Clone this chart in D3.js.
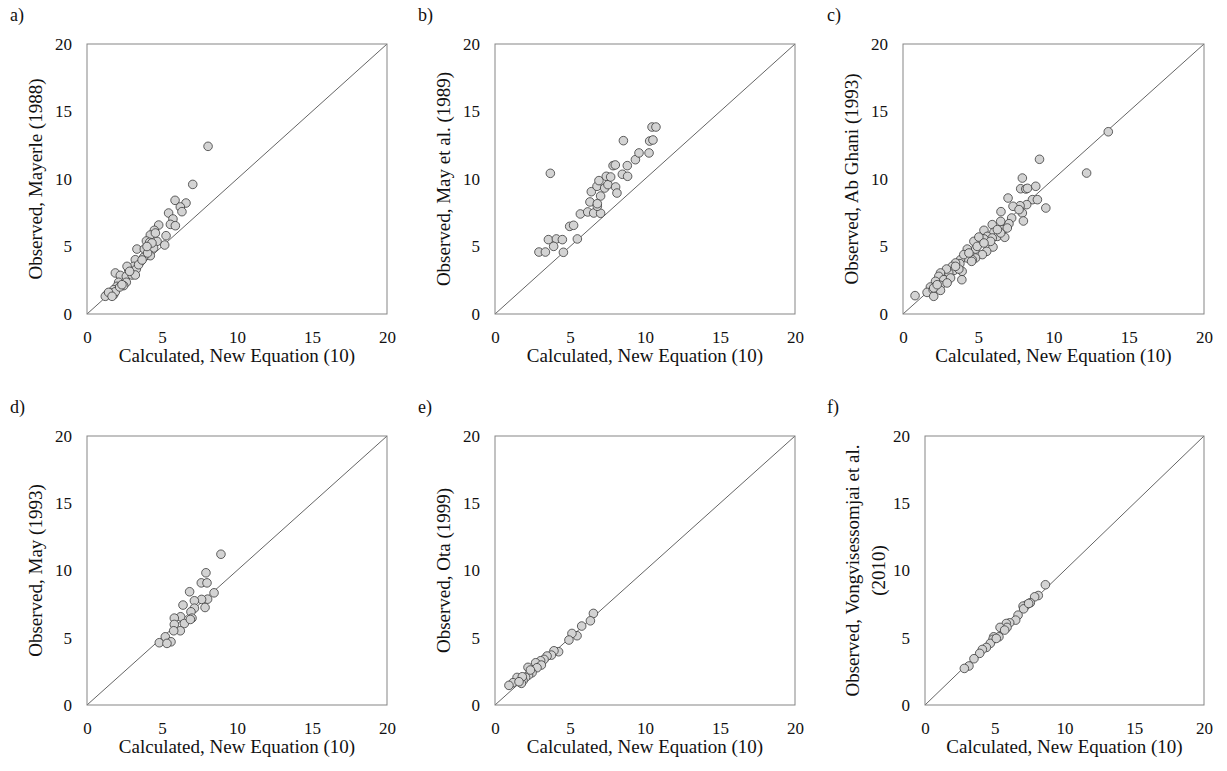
<!DOCTYPE html>
<html>
<head>
<meta charset="utf-8">
<script src="https://cdn.jsdelivr.net/npm/d3@7"></script>
<style>
    body { margin: 0; background: #fff; }
    svg text { font-family: 'Liberation Serif', 'Times New Roman', Times, 'DejaVu Serif', serif !important; }
</style>
</head>
<body>
<div id="chart"></div>
<script>
// tick values shared by every panel
var ticks = [0, 5, 10, 15, 20];
var xTitle = "Calculated, New Equation (10)";

// a) Mayerle (1988)
var mayerleCalc = [8.07, 7.05, 5.87, 6.6, 6.22, 6.33, 5.44, 5.73, 5.56, 5.89, 4.78, 4.49, 5.27, 5.18, 4.22, 3.96, 4.18, 4.67,
    3.33, 3.82, 4.44, 4.22, 3.78, 3.56, 3.22, 3.11, 2.78, 3.29, 2.67, 1.89, 2.22, 2.62, 3.0, 3.22, 2.11, 2.62, 2.44, 2.0,
    1.78, 1.56, 1.33, 1.22, 1.78, 1.89, 1.44, 1.67, 2.18, 2.33, 2.84, 3.44, 3.67, 4.04, 4.33, 4.0, 4.56];
var mayerleObs = [12.42, 9.6, 8.42, 8.22, 7.93, 7.58, 7.48, 7.04, 6.64, 6.54, 6.59, 6.2, 5.8, 5.11, 5.85, 5.41, 5.31, 5.38,
    4.81, 4.81, 4.89, 4.32, 4.2, 3.88, 4.02, 3.53, 3.28, 3.33, 3.53, 3.04, 2.86, 2.79, 2.89, 2.89, 2.35, 2.35, 2.1, 2.05,
    1.8, 1.56, 1.43, 1.31, 1.43, 1.65, 1.6, 1.31, 2.0, 2.17, 3.16, 3.65, 4.0, 4.52, 5.26, 5.0, 6.0];

// b) May et al. (1989)
var may1989Calc = [3.69, 2.93, 3.36, 3.56, 4.09, 3.91, 4.49, 4.56, 5.49, 4.98, 5.24, 5.69, 6.18, 6.58, 7.04, 6.33, 6.82, 7.04,
    6.42, 6.8, 6.93, 7.31, 7.53, 7.42, 7.71, 8.04, 8.13, 7.87, 8.02, 8.49, 8.82, 8.84, 8.56, 9.36, 9.6, 10.27, 10.31, 10.53,
    10.47, 10.73, 6.82];
var may1989Obs = [10.42, 4.59, 4.59, 5.51, 5.56, 5.01, 5.51, 4.57, 5.56, 6.49, 6.57, 7.41, 7.56, 7.48, 7.46, 8.3, 7.98, 8.74,
    9.06, 9.46, 9.88, 9.33, 9.58, 10.2, 10.15, 9.41, 8.96, 10.99, 11.04, 10.35, 10.99, 10.2, 12.84, 11.43, 11.93, 11.93, 12.81, 12.89,
    13.85, 13.85, 8.17];

// c) Ab Ghani (1993)
var abGhaniCalc = [13.64, 12.2, 9.07, 7.93, 8.82, 7.82, 8.16, 8.27, 6.98, 8.6, 8.93, 9.49, 8.22, 7.78, 7.31, 7.93, 8.0, 6.51,
    7.22, 7.04, 6.49, 5.93, 6.64, 5.38, 6.04, 6.27, 6.76, 5.6, 5.93, 5.38, 4.71, 5.04, 5.98, 4.82, 5.56, 5.27, 4.27, 4.82,
    4.6, 4.27, 3.82, 3.78, 4.56, 3.49, 3.27, 3.93, 3.38, 3.91, 3.04, 2.89, 2.49, 2.38, 2.71, 3.16, 2.16, 2.49, 2.93, 1.82,
    1.6, 2.0, 2.04, 2.49, 2.04, 0.8, 3.71, 4.04, 4.38, 4.93, 5.82, 6.49, 6.93, 7.71, 6.27, 5.38, 3.49, 2.27];
var abGhaniObs = [13.5, 10.44, 11.46, 10.07, 9.46, 9.28, 9.26, 9.31, 8.59, 8.47, 8.47, 7.85, 8.1, 8.02, 7.98, 7.48, 6.89, 7.58,
    7.11, 6.69, 6.86, 6.62, 6.25, 6.2, 6.05, 5.75, 5.68, 5.75, 5.63, 5.56, 5.38, 5.7, 4.96, 4.81, 4.64, 4.4, 4.81, 4.15,
    4.02, 4.15, 4.02, 3.73, 3.9, 3.78, 3.53, 3.16, 3.23, 2.54, 3.04, 3.33, 3.04, 2.79, 2.54, 2.67, 2.42, 2.12, 2.3, 2.0,
    1.6, 1.8, 1.31, 1.75, 1.93, 1.36, 3.33, 4.4, 4.52, 5.01, 5.38, 6.0, 6.37, 7.73, 6.25, 5.26, 3.53, 2.17];

// d) May (1993)
var may1993Calc = [8.93, 7.93, 7.62, 8.0, 6.84, 8.47, 8.04, 7.64, 7.16, 6.4, 7.87, 7.16, 6.93, 7.0, 6.24, 5.82, 6.49, 5.82,
    6.22, 5.78, 4.82, 5.22, 5.6, 5.33, 6.89];
var may1993Obs = [11.21, 9.83, 9.08, 9.08, 8.42, 8.34, 7.87, 7.85, 7.75, 7.43, 7.25, 7.2, 6.93, 6.46, 6.56, 6.46, 6.06, 5.99,
    5.52, 5.52, 4.63, 5.07, 4.7, 4.58, 6.36];

// e) Ota (1999)
var otaCalc = [6.56, 6.36, 5.78, 5.47, 5.13, 4.93, 4.24, 3.93, 3.76, 3.47, 3.27, 3.04, 2.71, 3.09, 2.8, 2.2, 2.47, 2.24,
    2.04, 1.87, 1.76, 1.47, 1.82, 1.2, 0.93, 1.6, 2.36];
var otaObs = [6.81, 6.26, 5.87, 5.15, 5.32, 4.83, 3.96, 4.03, 3.71, 3.64, 3.39, 3.29, 3.14, 2.97, 2.77, 2.8, 2.4, 2.23,
    2.05, 1.81, 1.61, 2.05, 2.1, 1.66, 1.46, 1.73, 2.6];

// f) Vongvisessomjai et al. (2010)
var vongCalc = [8.63, 8.12, 7.86, 7.55, 7.26, 7.03, 7.07, 6.67, 6.5, 6.07, 5.83, 5.88, 5.38, 5.3, 4.92, 4.87, 4.68, 4.4,
    4.11, 3.92, 3.51, 3.15, 2.82, 5.71, 7.43, 5.11];
var vongObs = [8.94, 8.14, 8.04, 7.6, 7.43, 7.35, 7.15, 6.68, 6.31, 6.11, 6.06, 5.77, 5.77, 5.07, 5.07, 4.88, 4.58, 4.28,
    4.13, 3.84, 3.44, 2.9, 2.72, 5.57, 7.55, 4.95];

var panels = [
    { label: "a)", yTitle: ["Observed,  Mayerle (1988)"], xs: mayerleCalc, ys: mayerleObs, left: 87, top: 44, w: 300, h: 270 },
    { label: "b)", yTitle: ["Observed, May et al. (1989)"], xs: may1989Calc, ys: may1989Obs, left: 495, top: 44, w: 300, h: 270 },
    { label: "c)", yTitle: ["Observed, Ab Ghani (1993)"], xs: abGhaniCalc, ys: abGhaniObs, left: 903, top: 44, w: 301, h: 270 },
    { label: "d)", yTitle: ["Observed, May (1993)"], xs: may1993Calc, ys: may1993Obs, left: 87, top: 436, w: 300, h: 269 },
    { label: "e)", yTitle: ["Observed, Ota (1999)"], xs: otaCalc, ys: otaObs, left: 495, top: 436, w: 300, h: 269 },
    { label: "f)", yTitle: ["Observed, Vongvisessomjai et al.", "(2010)"], xs: vongCalc, ys: vongObs, left: 925, top: 436, w: 279, h: 269 }
];

var labelX = [10, 418, 827];

var svg = d3.select("#chart")
    .append("svg")
    .attr("width", 1227)
    .attr("height", 771);

svg.append("rect").attr("width", 1227).attr("height", 771).attr("fill", "#fff");

panels.forEach(function (p, i) {
    var x = d3.scaleLinear().domain([0, 20]).range([0, p.w]);
    var y = d3.scaleLinear().domain([0, 20]).range([p.h, 0]);

    // panel letter
    svg.append("text")
        .attr("x", labelX[i % 3])
        .attr("y", p.top - 23)
        .attr("font-size", 18)
        .attr("fill", "#111")
        .text(p.label);

    var g = svg.append("g")
        .attr("transform", `translate(${p.left},${p.top})`);

    // x axis
    var xAxis = g.append("g")
        .attr("transform", `translate(0,${p.h})`)
        .call(d3.axisBottom(x).tickValues(ticks).tickSize(0).tickPadding(17));
    // y axis
    var yAxis = g.append("g")
        .call(d3.axisLeft(y).tickValues(ticks).tickSize(0).tickPadding(15));

    [xAxis, yAxis].forEach(function (a) {
        a.attr("font-family", null);
        a.select(".domain").remove();
        a.selectAll("text")
            .attr("font-size", 17)
            .attr("fill", "#111");
    });

    // 1:1 line
    g.append("line")
        .attr("x1", x(0)).attr("y1", y(0))
        .attr("x2", x(20)).attr("y2", y(20))
        .attr("stroke", "#3c3c3c")
        .attr("stroke-width", 0.8);

    // points
    g.selectAll(".pt")
        .data(d3.range(p.xs.length))
        .enter()
        .append("circle")
        .attr("class", "pt")
        .attr("cx", (k) => x(p.xs[k]))
        .attr("cy", (k) => y(p.ys[k]))
        .attr("r", 4.3)
        .attr("fill", "#d3d3d3")
        .attr("stroke", "#3a3a3a")
        .attr("stroke-width", 0.8);

    // plot frame
    g.append("rect")
        .attr("width", p.w)
        .attr("height", p.h)
        .attr("fill", "none")
        .attr("stroke", "#858585")
        .attr("stroke-width", 1);

    // x title
    g.append("text")
        .attr("x", p.w / 2)
        .attr("y", p.h + 48)
        .attr("text-anchor", "middle")
        .attr("font-size", 19)
        .attr("fill", "#111")
        .text(xTitle);

    // y title (one or two lines)
    var n = p.yTitle.length;
    p.yTitle.forEach(function (line, j) {
        var bx = n === 1 ? -45 : (j === 0 ? -66 : -40);
        g.append("text")
            .attr("transform", `translate(${bx},${p.h / 2}) rotate(-90)`)
            .attr("text-anchor", "middle")
            .attr("font-size", 19)
            .attr("fill", "#111")
            .text(line);
    });
});
</script>
</body>
</html>
